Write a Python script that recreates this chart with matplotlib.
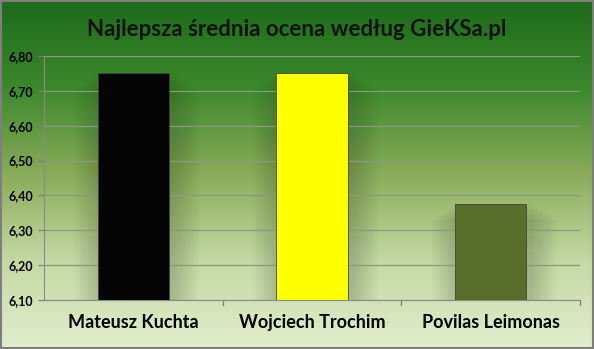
import numpy as np
import matplotlib.pyplot as plt
from matplotlib.colors import LinearSegmentedColormap

players = ['Mateusz Kuchta', 'Wojciech Trochim', 'Povilas Leimonas']
averages = [6.75, 6.75, 6.375]
bar_colors = ['#050505', '#ffff00', '#5a6e2c']
yticks = [6.10, 6.20, 6.30, 6.40, 6.50, 6.60, 6.70, 6.80]

plt.rcParams['font.family'] = ['Lato', 'DejaVu Sans']

fig = plt.figure(figsize=(5.94, 3.49), dpi=100)

# background gradient over whole figure
bg = fig.add_axes([0, 0, 1, 1], zorder=-10)
cmap = LinearSegmentedColormap.from_list(
    'bg', ['#1c6a1a', '#3c882c', '#8aac5a', '#c4d9a4', '#e2eecd'])
grad = np.linspace(0, 1, 256).reshape(-1, 1)
bg.imshow(grad, aspect='auto', cmap=cmap, extent=[0, 1, 0, 1], origin='upper')
bg.set_xlim(0, 1)
bg.set_ylim(0, 1)
bg.axis('off')
bg.add_patch(plt.Rectangle((0.001, 0.002), 0.997, 0.995, fill=False,
                           edgecolor='#7f7f7f', lw=1.5))

ax = fig.add_axes([44 / 594, 1 - 300 / 349, 536 / 594, 244 / 349])
ax.patch.set_alpha(0)
x = np.arange(len(players))

# soft shadows behind bars
for i, v in enumerate(averages):
    for k in range(10):
        w = 0.40 + 0.03 * (k + 1)
        ax.bar(x[i] + 0.02, v - 6.10 - 0.005 * k, bottom=6.10, width=w,
               color='#283818', alpha=0.022, zorder=1, linewidth=0)

bars = ax.bar(x, [v - 6.10 for v in averages], bottom=6.10, width=0.40,
              color=bar_colors, edgecolor='#404040', linewidth=0.6, zorder=3)

ax.set_ylim(6.10, 6.80)
ax.set_xlim(-0.5, 2.5)
ax.set_yticks(yticks)
ax.set_yticklabels([f'{t:.2f}'.replace('.', ',') for t in yticks],
                   fontsize=9, fontweight='bold')
ax.set_xticks(x)
ax.set_xticklabels(players, fontsize=13, fontweight='bold')
ax.tick_params(axis='x', length=0, pad=10)
ax.tick_params(axis='y', length=4, color='#7a7a7a', pad=4)
ax.grid(axis='y', color='#8a9a7e', lw=0.9, zorder=0)
for b in [0.5, 1.5, 2.5]:
    ax.plot([b, b], [6.10, 6.085], color='#7a7a7a', lw=0.9, clip_on=False)
for s in ['top', 'right']:
    ax.spines[s].set_visible(False)
ax.spines['left'].set_color('#8a8a8a')
ax.spines['bottom'].set_color('#8a8a8a')

fig.text(0.5, 1 - 29 / 349, 'Najlepsza średnia ocena według GieKSa.pl',
         ha='center', va='center', fontsize=16, fontweight='bold', color='#111111')

fig.savefig('out.png', dpi=100)
